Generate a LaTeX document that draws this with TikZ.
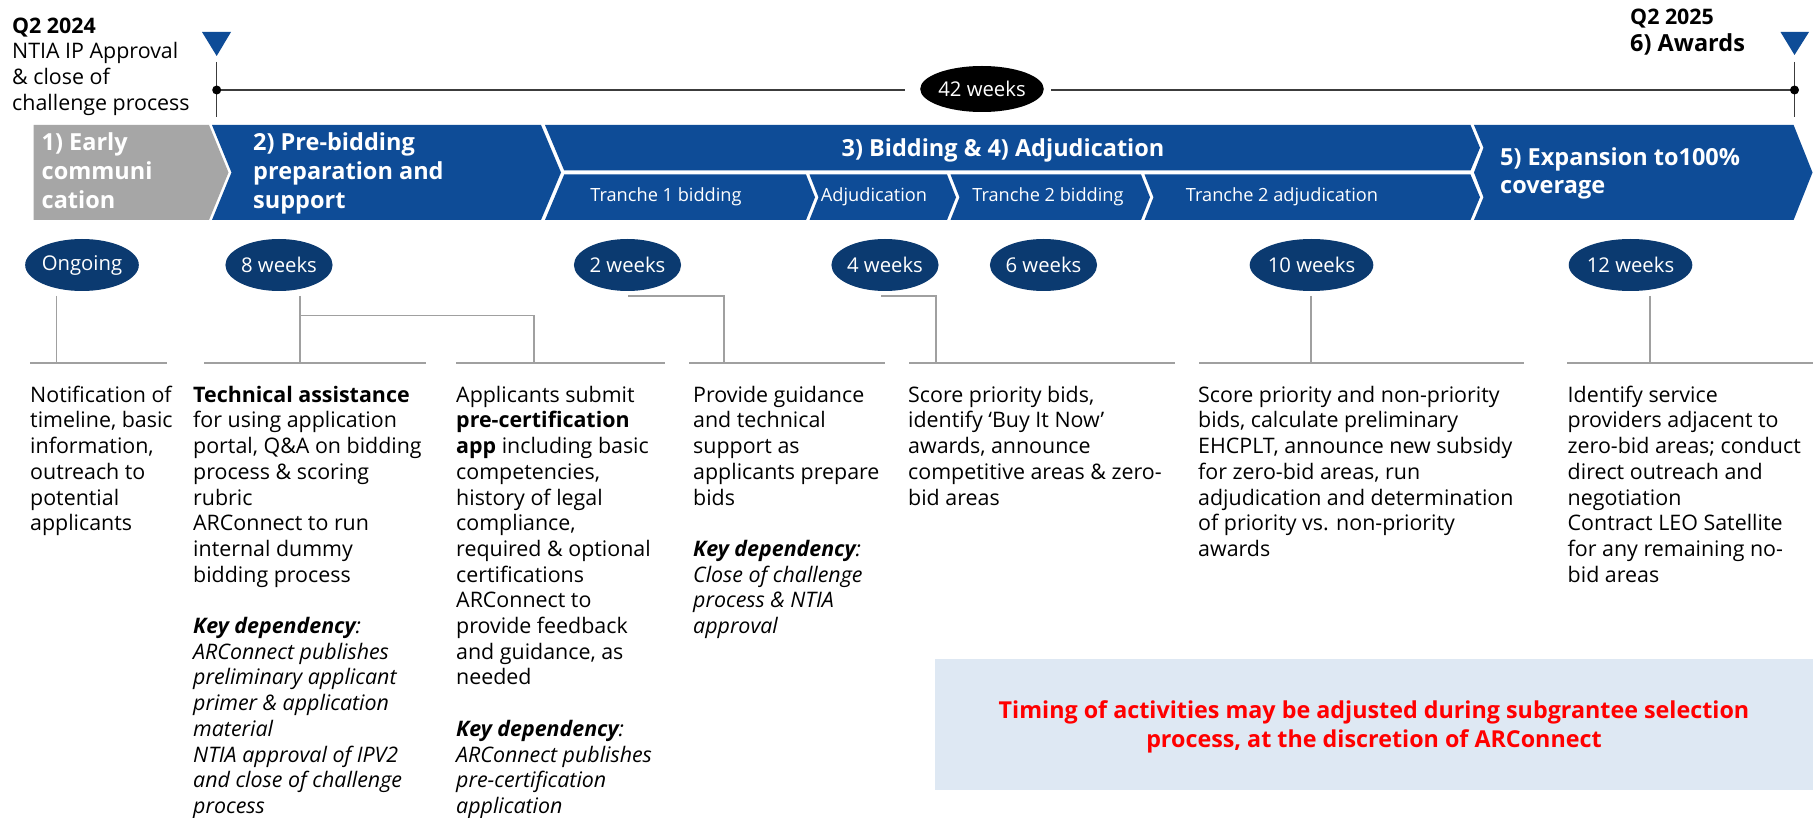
\documentclass[tikz,border=0pt]{standalone}
\usepackage{fontspec}
\setmainfont{Open Sans}
\usetikzlibrary{shapes.geometric}
\definecolor{chevblue}{HTML}{0E4C97}
\definecolor{navy}{HTML}{0B3A70}
\definecolor{chevgray}{HTML}{A6A6A6}
\definecolor{linegray}{HTML}{A0A0A0}
\definecolor{boxfill}{HTML}{DEE8F3}
\definecolor{tlgray}{HTML}{3C3C3C}
\definecolor{notered}{HTML}{FF0000}
\newcommand{\kdep}{\textit{\textbf{Key dependency}:}}
\newcommand{\fstrut}{\rule{0pt}{20pt}}
\newcommand{\hstrut}{\rule{0pt}{22pt}}
\begin{document}
\begin{tikzpicture}[x=1pt,y=-1pt,
 bodytxt/.style={anchor=north west, inner sep=0pt, align=left, font=\fontsize{21.4}{25.7}\selectfont},
 headtxt/.style={anchor=north west, inner sep=0pt, align=left, text=white, font=\fontsize{23.5}{28.7}\selectfont\bfseries},
 subtxt/.style={anchor=base, inner sep=0pt, text=white, font=\fontsize{18.2}{22}\selectfont},
 durell/.style={ellipse, fill=navy, text=white, minimum width=103pt, minimum height=52pt, inner sep=0pt, font=\fontsize{20.3}{24}\selectfont},
 connline/.style={draw=linegray, line width=1.4pt},
 tlline/.style={draw=tlgray, line width=1.3pt},
 chevfill/.style={fill=chevblue},
]
\useasboundingbox (0,0) rectangle (1818,818);
\fill[white] (0,0) rectangle (1818,818);

% ---------- top timeline ----------
\node[bodytxt] (startlbl) at (12,13) {\fstrut\textbf{Q2 2024}\\NTIA IP Approval\\\& close of\\challenge process};
\node[anchor=base west, inner sep=0pt, font=\fontsize{21.4}{25.7}\selectfont\bfseries] (endq) at (1630,25) {Q2 2025};
\node[anchor=base west, inner sep=0pt, font=\fontsize{23.5}{28}\selectfont\bfseries] (endlbl) at (1630,52) {6) Awards};

\fill[chevblue] (202,32) -- (231,32) -- (216.7,56) -- cycle;
\fill[chevblue] (1780.5,32) -- (1809,32) -- (1794.5,55) -- cycle;

\coordinate (tlL) at (216.7,90);
\coordinate (tlR) at (1794.5,90);
\coordinate (tlA) at (905,90);
\coordinate (tlB) at (1051,90);
\coordinate (tkLt) at (216.7,62);
\coordinate (tkLb) at (216.7,117);
\coordinate (tkRt) at (1794.5,62);
\coordinate (tkRb) at (1794.5,117);
\draw[tlline] (tkLt) -- (tkLb);
\draw[tlline] (tkRt) -- (tkRb);
\draw[tlline] (tlL) -- (tlA);
\draw[tlline] (tlB) -- (tlR);
\fill[black] (tlL) circle[radius=4.5pt];
\fill[black] (tlR) circle[radius=4.5pt];
\node[ellipse, fill=black, text=white, minimum width=96pt, minimum height=46pt, inner sep=0pt, font=\fontsize{20.3}{24}\selectfont] (w42) at (982,89) {42 weeks};

% ---------- chevron band ----------
\fill[chevgray] (33.6,125) -- (209,125) -- (228.5,172.5) -- (209,220) -- (33.6,220) -- cycle;
\fill[chevblue] (212,125) -- (541,125) -- (561,172.5) -- (541,220) -- (212,220) -- (231.5,172.5) -- cycle;
\fill[chevblue] (545,125) -- (1470.5,125) -- (1480,147.75) -- (1470.5,170.5) -- (564.2,170.5) -- cycle;
\fill[chevblue] (564.2,174.5) -- (806,174.5) -- (815,197.25) -- (806,220) -- (545,220) -- cycle;
\fill[chevblue] (809.5,174.5) -- (947,174.5) -- (956,197.25) -- (947,220) -- (809.5,220) -- (818.5,197.25) -- cycle;
\fill[chevblue] (950.5,174.5) -- (1141,174.5) -- (1150,197.25) -- (1141,220) -- (950.5,220) -- (959.5,197.25) -- cycle;
\fill[chevblue] (1144.5,174.5) -- (1470.5,174.5) -- (1480,197.25) -- (1470.5,220) -- (1144.5,220) -- (1153.5,197.25) -- cycle;
\fill[chevblue] (1474,125) -- (1793.6,125) -- (1812.5,172.5) -- (1793.6,220) -- (1474,220) -- (1483.5,197.25) -- (1474,172.5) -- (1483.5,147.75) -- cycle;

\node[headtxt] (h1) at (41.5,128.7) {\hstrut 1) Early\\communi\\cation};
\node[headtxt] (h2) at (253,128.7) {\hstrut 2) Pre-bidding\\preparation and\\support};
\node[anchor=base, inner sep=0pt, text=white, font=\fontsize{23.5}{28}\selectfont\bfseries] (h3) at (1003,157) {3) Bidding \& 4) Adjudication};
\node[headtxt, font=\fontsize{23.5}{28}\selectfont\bfseries] (h5) at (1500,143) {\hstrut 5) Expansion to100\%\\coverage};
\node[subtxt] (s1) at (666,202) {Tranche 1 bidding};
\node[subtxt] (s2) at (874,202) {Adjudication};
\node[subtxt] (s3) at (1048,202) {Tranche 2 bidding};
\node[subtxt] (s4) at (1282,202) {Tranche 2 adjudication};

% ---------- duration ellipses ----------
\node[durell] (eOn) at (82,265) {Ongoing};
\node[durell] (e8) at (279,265) {8 weeks};
\node[durell] (e2) at (627.5,265) {2 weeks};
\node[durell] (e4) at (885,265) {4 weeks};
\node[durell] (e6) at (1043.5,265) {6 weeks};
\node[durell] (e10) at (1311.5,265) {10 weeks};
\node[durell] (e12) at (1630.5,265) {12 weeks};

% ---------- connectors ----------
\coordinate (c1t) at (56.7,296);  \coordinate (c1b) at (56.7,363);
\coordinate (c2t) at (300,296);   \coordinate (c2b) at (300,363);
\coordinate (c2m) at (300,315.7); \coordinate (c3b) at (534,363);
\coordinate (c4t) at (628,296);   \coordinate (c4b) at (724,363);
\coordinate (c5t) at (881,296);   \coordinate (c5b) at (936,363);
\coordinate (c6t) at (1311,296);  \coordinate (c6b) at (1311,363);
\coordinate (c7t) at (1650,296);  \coordinate (c7b) at (1650,363);
\draw[connline] (c1t) -- (c1b);
\draw[connline] (c2t) -- (c2b);
\draw[connline] (c2m) -| (c3b);
\draw[connline] (c4t) -| (c4b);
\draw[connline] (c5t) -| (c5b);
\draw[connline] (c6t) -- (c6b);
\draw[connline] (c7t) -- (c7b);
% underlines
\draw[connline] (30,363) -- (167,363);
\draw[connline] (204,363) -- (426,363);
\draw[connline] (456,363) -- (665,363);
\draw[connline] (689,363) -- (885,363);
\draw[connline] (909,363) -- (1175,363);
\draw[connline] (1199,363) -- (1524,363);
\draw[connline] (1567,363) -- (1812.5,363);

% ---------- column texts ----------
\node[bodytxt] (t1) at (30,382) {\fstrut Notification of\\timeline, basic\\information,\\outreach to\\potential\\applicants};
\node[bodytxt] (t2) at (193,382) {\fstrut\textbf{Technical assistance}\\for using application\\portal, Q\&A on bidding\\process \& scoring\\rubric\\ARConnect to run\\internal dummy\\bidding process\\[25.7pt]\kdep\\\textit{ARConnect publishes}\\\textit{preliminary applicant}\\\textit{primer \& application}\\\textit{material}\\\textit{NTIA approval of IPV2}\\\textit{and close of challenge}\\\textit{process}};
\node[bodytxt] (t3) at (456,382) {\fstrut Applicants submit\\\textbf{pre-certification}\\\textbf{app} including basic\\competencies,\\history of legal\\compliance,\\required \& optional\\certifications\\ARConnect to\\provide feedback\\and guidance, as\\needed\\[25.7pt]\kdep\\\textit{ARConnect publishes}\\\textit{pre-certification}\\\textit{application}};
\node[bodytxt] (t4) at (693,382) {\fstrut Provide guidance\\and technical\\support as\\applicants prepare\\bids\\[25.7pt]\kdep\\\textit{Close of challenge}\\\textit{process \& NTIA}\\\textit{approval}};
\node[bodytxt] (t5) at (908,382) {\fstrut Score priority bids,\\identify `Buy It Now'\\awards, announce\\competitive areas \& zero-\\bid areas};
\node[bodytxt] (t6) at (1198,382) {\fstrut Score priority and non-priority\\bids, calculate preliminary\\EHCPLT, announce new subsidy\\for zero-bid areas, run\\adjudication and determination\\of priority vs. non-priority\\awards};
\node[bodytxt] (t7) at (1567.5,382) {\fstrut Identify service\\providers adjacent to\\zero-bid areas; conduct\\direct outreach and\\negotiation\\Contract LEO Satellite\\for any remaining no-\\bid areas};

% ---------- note box ----------
\node[fill=boxfill, anchor=north west, minimum width=878pt, minimum height=131pt, inner sep=0pt] (notebox) at (935,659) {};
\node[anchor=north, inner sep=0pt, align=center, text=notered, font=\fontsize{23.3}{29}\selectfont\bfseries] (notetxt) at (1374,696) {\hstrut Timing of activities may be adjusted during subgrantee selection\\process, at the discretion of ARConnect};
\end{tikzpicture}
\end{document}
